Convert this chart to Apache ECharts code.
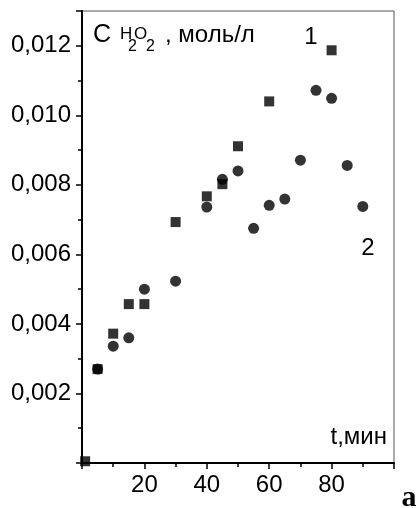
<!DOCTYPE html>
<html>
<head>
<meta charset="utf-8">
<script src="https://cdn.jsdelivr.net/npm/echarts@6/dist/echarts.min.js"></script>
<style>
  html, body { margin: 0; padding: 0; background: #fff; }
  #chart { width: 419px; height: 508px; }
</style>
</head>
<body>
<div id="chart"></div>
<script>
// curve 1 (squares)
var t1 = [1, 5, 10, 15, 20, 30, 40, 45, 50, 60, 80];
var c1 = [0.00005, 0.0027, 0.00372, 0.00457, 0.00457, 0.00693, 0.00767, 0.00802, 0.00911, 0.0104, 0.01187];
// curve 2 (circles)
var t2 = [5, 10, 15, 20, 30, 40, 45, 50, 55, 60, 65, 70, 75, 80, 85, 90];
var c2 = [0.0027, 0.00336, 0.0036, 0.005, 0.00523, 0.00736, 0.00816, 0.0084, 0.00675, 0.00741, 0.00759, 0.00871, 0.01072, 0.01049, 0.00856, 0.00738];

var font = 'Liberation Sans, Arial, sans-serif';

function pairs(xs, ys) {
  return xs.map(function (x, i) { return [x, ys[i]]; });
}

var chart = echarts.init(document.getElementById('chart'));
chart.setOption({
  animation: false,
  grid: {
    left: 82, right: 25, top: 11, bottom: 45,
    show: true, borderColor: '#555', borderWidth: 1
  },
  xAxis: {
    type: 'value', min: 0, max: 100, interval: 20,
    splitLine: { show: false },
    axisLine: { lineStyle: { color: '#000', width: 2 } },
    axisTick: { show: true, length: 6, lineStyle: { color: '#000', width: 1.5 } },
    minorTick: { show: true, splitNumber: 2, length: 4, lineStyle: { color: '#000', width: 1.5 } },
    axisLabel: {
      showMinLabel: false, showMaxLabel: false,
      color: '#000', fontFamily: font, fontSize: 24, margin: 10
    }
  },
  yAxis: {
    type: 'value', min: 0, max: 0.013, interval: 0.002,
    splitLine: { show: false },
    axisLine: { lineStyle: { color: '#000', width: 2 } },
    axisTick: { show: true, length: 6, lineStyle: { color: '#000', width: 1.5 } },
    minorTick: { show: true, splitNumber: 2, length: 4, lineStyle: { color: '#000', width: 1.5 } },
    axisLabel: {
      showMinLabel: false, showMaxLabel: false,
      color: '#000', fontFamily: font, fontSize: 24, margin: 11,
      formatter: function (v) { return v.toFixed(3).replace('.', ','); }
    }
  },
  series: [
    {
      type: 'scatter', symbol: 'rect', symbolSize: 10,
      itemStyle: { color: '#000' },
      data: pairs(t1, c1)
    },
    {
      type: 'scatter', symbol: 'circle', symbolSize: 11,
      itemStyle: { color: '#000' },
      data: pairs(t2, c2)
    }
  ],
  graphic: [
    { type: 'text', x: 93, y: 35, style: { text: 'C', font: '25px ' + font, fill: '#000', textVerticalAlign: 'middle' } },
    { type: 'text', x: 120, y: 34, style: { text: 'H', font: '17px ' + font, fill: '#000', textVerticalAlign: 'middle' } },
    { type: 'text', x: 128, y: 47, style: { text: '2', font: '16px ' + font, fill: '#000', textVerticalAlign: 'middle' } },
    { type: 'text', x: 134, y: 34, style: { text: 'O', font: '17px ' + font, fill: '#000', textVerticalAlign: 'middle' } },
    { type: 'text', x: 146, y: 47, style: { text: '2', font: '16px ' + font, fill: '#000', textVerticalAlign: 'middle' } },
    { type: 'text', x: 165, y: 35, style: { text: ', моль/л', font: '24px ' + font, fill: '#000', textVerticalAlign: 'middle' } },
    { type: 'text', x: 311, y: 37, style: { text: '1', font: '24px ' + font, fill: '#000', textAlign: 'center', textVerticalAlign: 'middle' } },
    { type: 'text', x: 368, y: 248, style: { text: '2', font: '24px ' + font, fill: '#000', textAlign: 'center', textVerticalAlign: 'middle' } },
    { type: 'text', x: 387, y: 437, style: { text: 't,мин', font: '24px ' + font, fill: '#000', textAlign: 'right', textVerticalAlign: 'middle' } },
    { type: 'text', x: 409, y: 498, style: { text: 'a', font: 'bold 30px Liberation Serif, serif', fill: '#000', textAlign: 'center', textVerticalAlign: 'middle' } }
  ]
});
</script>
</body>
</html>
